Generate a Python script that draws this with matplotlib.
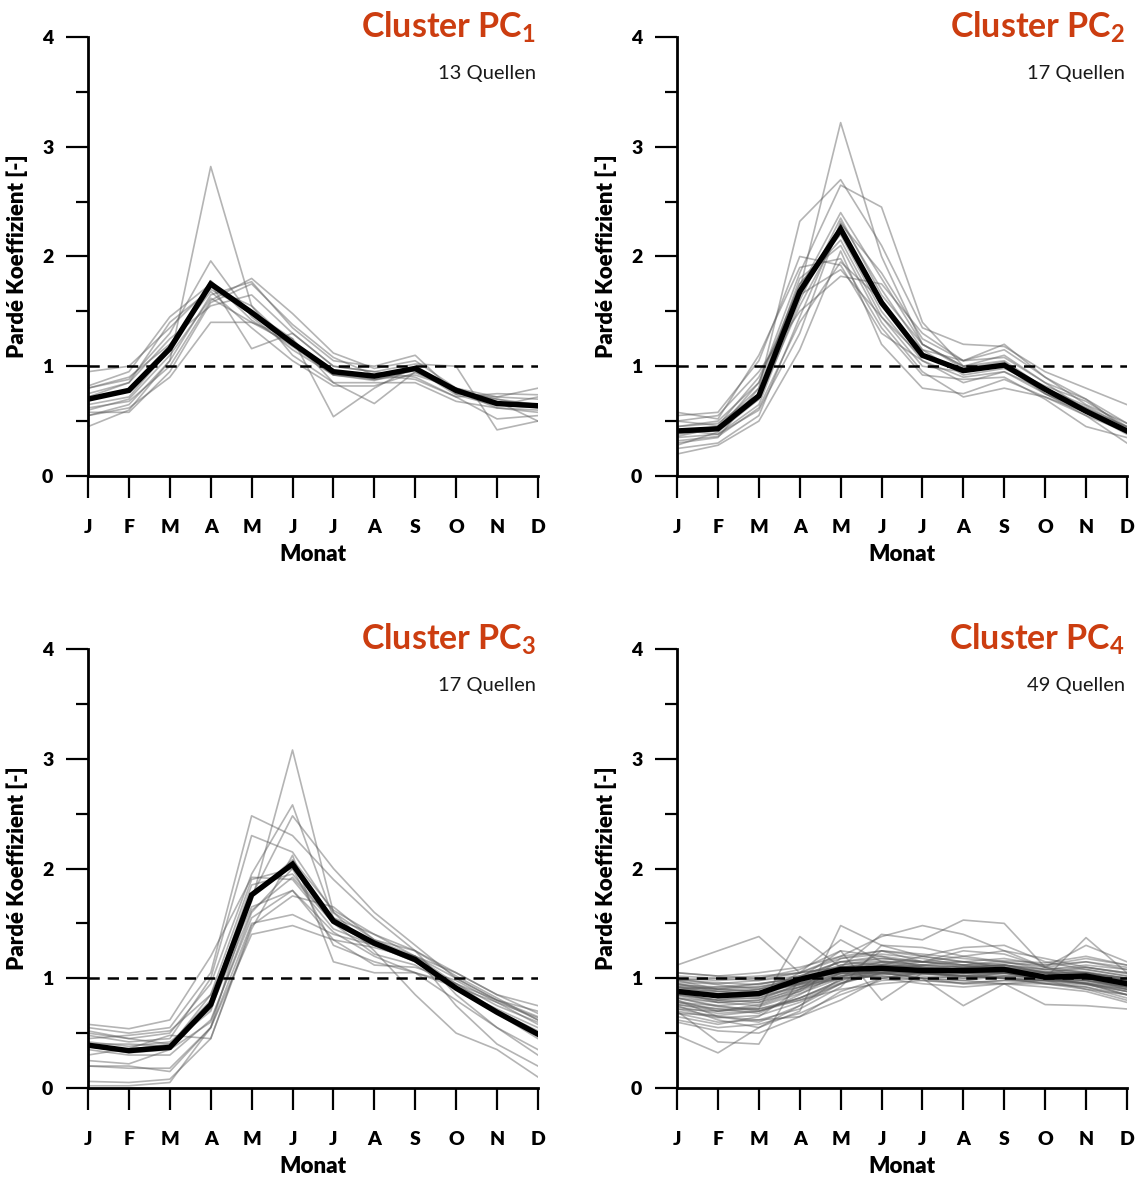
import numpy as np
import matplotlib.pyplot as plt
from matplotlib.ticker import MultipleLocator

plt.rcParams['font.family'] = ['Lato', 'DejaVu Sans']
plt.rcParams['mathtext.fontset'] = 'custom'
plt.rcParams['mathtext.rm'] = 'Lato:bold'
plt.rcParams['mathtext.bf'] = 'Lato:bold'

months = ["J", "F", "M", "A", "M", "J", "J", "A", "S", "O", "N", "D"]

# cluster means (thick black)
pc1_mean = [0.70, 0.78, 1.16, 1.75, 1.49, 1.21, 0.95, 0.91, 0.98, 0.78, 0.66, 0.64]
pc2_mean = [0.41, 0.43, 0.73, 1.68, 2.25, 1.58, 1.10, 0.96, 1.01, 0.79, 0.59, 0.41]
pc3_mean = [0.39, 0.34, 0.37, 0.76, 1.76, 2.04, 1.52, 1.32, 1.17, 0.91, 0.69, 0.49]
pc4_mean = [0.88, 0.84, 0.86, 0.99, 1.08, 1.09, 1.07, 1.07, 1.08, 1.01, 1.02, 0.95]

# single springs (thin grey)
pc1_springs = [
    [0.55, 0.65, 1.05, 2.82, 1.55, 1.20, 0.95, 0.88, 0.96, 0.78, 0.70, 0.65],
    [0.80, 0.88, 1.30, 1.96, 1.45, 1.15, 0.92, 0.90, 0.98, 0.78, 0.65, 0.62],
    [0.60, 0.70, 1.10, 1.62, 1.40, 1.25, 0.54, 0.80, 1.00, 0.75, 0.70, 0.62],
    [0.75, 0.85, 1.40, 1.70, 1.50, 1.25, 0.85, 0.66, 0.95, 0.77, 0.62, 0.58],
    [0.55, 0.62, 0.90, 1.40, 1.40, 1.20, 0.92, 0.88, 0.92, 0.80, 0.72, 0.70],
    [0.62, 0.68, 1.00, 1.60, 1.80, 1.48, 1.12, 0.98, 1.05, 0.80, 0.68, 0.50],
    [0.45, 0.60, 1.05, 1.65, 1.77, 1.35, 1.05, 1.00, 1.10, 0.75, 0.72, 0.80],
    [0.82, 0.95, 1.45, 1.75, 1.16, 1.30, 1.00, 0.95, 1.02, 1.00, 0.42, 0.50],
    [0.72, 0.85, 1.25, 1.55, 1.65, 1.30, 1.00, 0.95, 0.90, 0.72, 0.75, 0.74],
    [0.58, 0.58, 0.95, 1.58, 1.75, 1.38, 1.08, 0.92, 0.88, 0.72, 0.52, 0.55],
    [0.95, 1.00, 1.35, 1.72, 1.55, 1.10, 0.85, 0.85, 0.85, 0.68, 0.62, 0.60],
    [0.80, 0.90, 1.20, 1.68, 1.35, 1.05, 0.82, 0.82, 0.94, 0.80, 0.66, 0.64],
    [0.65, 0.72, 1.15, 1.78, 1.42, 1.18, 0.92, 0.87, 0.97, 0.74, 0.64, 0.72],
]

pc2_springs = [
    [0.40, 0.42, 0.70, 1.70, 3.22, 2.00, 1.20, 1.00, 1.05, 0.80, 0.60, 0.40],
    [0.30, 0.35, 0.80, 2.32, 2.70, 2.10, 1.35, 1.20, 1.18, 0.95, 0.80, 0.65],
    [0.45, 0.50, 0.85, 1.85, 2.65, 2.45, 1.40, 1.00, 1.10, 0.85, 0.60, 0.45],
    [0.50, 0.55, 0.95, 1.50, 1.82, 1.75, 1.30, 1.05, 1.15, 0.90, 0.70, 0.42],
    [0.55, 0.58, 1.05, 2.00, 1.92, 1.30, 1.05, 0.85, 0.95, 0.75, 0.55, 0.40],
    [0.20, 0.28, 0.50, 1.15, 2.05, 1.20, 0.80, 0.75, 0.88, 0.72, 0.55, 0.30],
    [0.35, 0.38, 0.65, 1.60, 2.35, 1.65, 1.20, 1.00, 1.00, 0.75, 0.58, 0.40],
    [0.40, 0.45, 0.80, 1.75, 2.20, 1.50, 1.05, 0.90, 0.95, 0.78, 0.62, 0.45],
    [0.25, 0.30, 0.55, 1.45, 2.30, 1.85, 1.25, 1.05, 1.20, 0.90, 0.65, 0.48],
    [0.45, 0.48, 0.75, 1.80, 2.10, 1.40, 0.95, 0.72, 0.80, 0.72, 0.58, 0.38],
    [0.32, 0.36, 0.62, 1.40, 1.95, 1.60, 1.10, 0.95, 1.00, 0.82, 0.68, 0.45],
    [0.58, 0.52, 1.10, 1.90, 1.98, 1.35, 0.92, 0.88, 0.90, 0.70, 0.45, 0.35],
    [0.28, 0.40, 0.70, 1.55, 2.25, 1.55, 1.15, 0.92, 0.98, 0.80, 0.62, 0.42],
    [0.38, 0.42, 0.85, 1.75, 2.15, 1.45, 1.00, 0.95, 1.02, 0.78, 0.58, 0.40],
    [0.42, 0.38, 0.60, 1.30, 2.32, 1.70, 1.15, 1.05, 1.08, 0.85, 0.70, 0.48],
    [0.50, 0.46, 0.90, 1.65, 1.88, 1.45, 1.08, 0.98, 1.04, 0.75, 0.60, 0.40],
    [0.36, 0.44, 0.72, 1.70, 2.40, 1.80, 1.20, 0.98, 1.02, 0.80, 0.64, 0.44],
]

pc3_springs = [
    [0.40, 0.35, 0.40, 0.80, 1.70, 3.08, 1.60, 1.35, 1.20, 0.95, 0.70, 0.50],
    [0.55, 0.50, 0.55, 1.05, 2.48, 2.30, 1.90, 1.55, 1.25, 0.85, 0.55, 0.30],
    [0.50, 0.45, 0.50, 0.95, 1.95, 2.58, 1.55, 1.30, 1.15, 0.95, 0.75, 0.60],
    [0.20, 0.18, 0.18, 0.55, 1.75, 2.48, 2.00, 1.60, 1.30, 1.00, 0.80, 0.65],
    [0.48, 0.42, 0.45, 1.00, 2.30, 2.15, 1.60, 1.25, 0.85, 0.50, 0.35, 0.10],
    [0.06, 0.05, 0.08, 0.45, 1.45, 2.12, 1.15, 1.05, 1.05, 0.95, 0.80, 0.70],
    [0.58, 0.54, 0.62, 1.20, 1.92, 1.90, 1.45, 1.30, 1.20, 1.00, 0.80, 0.62],
    [0.38, 0.32, 0.35, 0.60, 1.60, 2.00, 1.55, 1.40, 1.25, 1.05, 0.85, 0.68],
    [0.25, 0.22, 0.35, 0.78, 1.85, 1.95, 1.50, 1.30, 1.15, 0.90, 0.68, 0.45],
    [0.20, 0.20, 0.15, 0.55, 1.50, 1.58, 1.40, 1.30, 1.20, 1.05, 0.85, 0.75],
    [0.02, 0.02, 0.05, 0.55, 1.40, 1.48, 1.35, 1.28, 1.18, 0.90, 0.70, 0.52],
    [0.45, 0.48, 0.52, 0.85, 1.65, 1.80, 1.35, 1.12, 1.10, 0.98, 0.78, 0.58],
    [0.35, 0.30, 0.30, 0.62, 1.55, 1.80, 1.42, 1.20, 1.05, 0.80, 0.55, 0.35],
    [0.52, 0.45, 0.40, 0.70, 1.75, 2.08, 1.62, 1.40, 1.20, 0.75, 0.40, 0.20],
    [0.30, 0.36, 0.48, 0.45, 1.48, 1.75, 1.65, 1.35, 1.25, 1.02, 0.82, 0.62],
    [0.42, 0.38, 0.42, 0.72, 1.62, 1.92, 1.50, 1.22, 1.12, 0.90, 0.72, 0.55],
    [0.40, 0.40, 0.38, 0.85, 1.90, 2.00, 1.30, 1.15, 1.05, 0.92, 0.78, 0.64],
]

pc4_springs = [
    [1.12, 1.25, 1.38, 1.05, 1.20, 1.25, 1.15, 1.10, 1.12, 1.05, 1.00, 0.95],
    [0.48, 0.32, 0.55, 0.75, 0.95, 1.10, 1.05, 1.00, 1.05, 1.00, 0.95, 0.85],
    [0.70, 0.42, 0.40, 1.00, 1.15, 1.20, 1.10, 1.05, 1.00, 0.98, 0.95, 0.90],
    [0.80, 0.70, 0.72, 1.38, 1.10, 1.05, 1.00, 0.98, 1.02, 1.00, 0.98, 0.92],
    [0.92, 0.90, 0.95, 1.00, 1.10, 1.40, 1.35, 1.53, 1.50, 1.10, 1.00, 0.90],
    [0.85, 0.80, 0.85, 1.00, 1.25, 0.80, 1.05, 1.10, 1.08, 1.02, 1.05, 0.98],
    [0.95, 0.88, 0.85, 1.05, 1.35, 1.15, 1.10, 1.05, 1.05, 1.00, 1.37, 1.05],
    [0.88, 0.85, 0.90, 0.95, 1.05, 1.05, 1.00, 0.75, 0.95, 0.76, 0.75, 0.72],
    [0.75, 0.62, 0.55, 0.70, 1.48, 1.30, 1.20, 1.15, 1.10, 1.05, 1.00, 0.95],
    [1.05, 1.02, 1.05, 1.10, 1.20, 1.38, 1.48, 1.40, 1.25, 1.18, 1.10, 1.05],
    [0.98, 1.00, 1.02, 1.05, 1.10, 1.15, 1.15, 1.20, 1.25, 1.10, 1.30, 1.15],
    [0.90, 0.92, 0.95, 1.00, 1.05, 1.10, 1.12, 1.15, 1.18, 1.12, 1.15, 1.08],
    [0.68, 0.60, 0.62, 0.65, 0.80, 1.00, 1.05, 1.10, 1.12, 1.05, 1.02, 0.95],
    [0.72, 0.65, 0.60, 0.75, 1.00, 1.25, 1.20, 1.15, 1.10, 1.02, 0.98, 0.90],
    [0.82, 0.75, 0.70, 0.80, 0.95, 1.05, 1.10, 1.08, 1.05, 1.00, 0.95, 0.88],
    [0.86, 0.80, 0.78, 0.88, 1.02, 1.05, 1.00, 0.95, 0.98, 0.98, 0.95, 0.90],
    [0.78, 0.72, 0.68, 0.85, 1.05, 1.10, 1.08, 1.05, 1.05, 1.02, 1.00, 0.92],
    [0.92, 0.88, 0.90, 1.02, 1.15, 1.12, 1.08, 1.05, 1.05, 1.00, 1.02, 0.96],
    [0.96, 0.95, 0.98, 1.05, 1.10, 1.08, 1.05, 1.02, 1.02, 1.00, 1.00, 0.98],
    [1.00, 0.98, 1.00, 1.08, 1.25, 1.20, 1.15, 1.12, 1.10, 1.05, 1.05, 1.00],
    [0.65, 0.58, 0.65, 0.90, 1.18, 1.22, 1.18, 1.12, 1.08, 1.00, 0.95, 0.85],
    [0.74, 0.68, 0.70, 0.82, 0.98, 1.05, 1.05, 1.02, 1.00, 0.95, 0.92, 0.82],
    [0.84, 0.78, 0.80, 0.95, 1.08, 1.12, 1.10, 1.08, 1.08, 1.05, 1.05, 0.98],
    [0.90, 0.82, 0.82, 0.92, 1.00, 1.02, 1.00, 0.98, 0.95, 0.95, 0.92, 0.85],
    [0.98, 0.90, 0.88, 0.95, 1.02, 1.08, 1.05, 1.02, 1.00, 0.98, 0.96, 0.92],
    [0.80, 0.65, 0.62, 0.72, 0.92, 1.30, 1.28, 1.20, 1.15, 1.08, 1.05, 0.98],
    [0.62, 0.55, 0.58, 0.68, 0.85, 0.98, 1.00, 1.02, 1.05, 1.05, 1.10, 1.05],
    [1.02, 1.00, 0.98, 1.02, 1.05, 1.00, 0.95, 0.92, 0.95, 0.98, 1.00, 0.95],
    [0.88, 0.78, 0.75, 0.88, 1.12, 1.18, 1.15, 1.25, 1.22, 1.10, 1.05, 1.00],
    [0.76, 0.70, 0.76, 0.90, 1.00, 1.12, 1.20, 1.28, 1.30, 1.15, 1.08, 1.02],
    [0.94, 0.92, 0.92, 0.98, 1.06, 1.04, 1.02, 1.00, 1.02, 1.02, 1.04, 1.00],
    [0.70, 0.64, 0.66, 0.78, 0.95, 1.08, 1.12, 1.10, 1.12, 1.08, 1.12, 1.08],
    [0.82, 0.74, 0.72, 0.80, 0.90, 0.95, 0.98, 0.96, 0.98, 0.96, 0.94, 0.88],
    [1.05, 1.02, 1.00, 1.05, 1.18, 1.25, 1.22, 1.18, 1.15, 1.10, 1.15, 1.10],
    [0.86, 0.84, 0.86, 0.98, 1.08, 1.10, 1.06, 1.06, 1.08, 1.02, 1.02, 0.95],
    [0.92, 0.86, 0.84, 0.92, 1.02, 1.06, 1.04, 1.04, 1.06, 1.04, 1.06, 1.00],
    [0.78, 0.75, 0.78, 0.92, 1.05, 1.15, 1.12, 1.08, 1.05, 0.98, 0.90, 0.80],
    [0.95, 0.90, 0.92, 1.00, 1.12, 1.16, 1.12, 1.10, 1.12, 1.08, 1.10, 1.04],
    [0.72, 0.70, 0.74, 0.86, 1.00, 1.02, 0.98, 0.95, 0.95, 0.92, 0.88, 0.78],
    [0.98, 0.96, 0.94, 1.02, 1.15, 1.18, 1.15, 1.12, 1.14, 1.12, 1.18, 1.12],
    [0.85, 0.80, 0.82, 0.94, 1.04, 1.06, 1.04, 1.02, 1.04, 1.00, 0.98, 0.92],
    [0.68, 0.66, 0.70, 0.82, 0.98, 1.10, 1.15, 1.15, 1.12, 1.06, 1.00, 0.92],
    [0.90, 0.88, 0.86, 0.96, 1.06, 1.12, 1.10, 1.08, 1.10, 1.06, 1.08, 1.02],
    [0.82, 0.78, 0.80, 0.90, 1.04, 1.08, 1.06, 1.04, 1.06, 1.02, 1.00, 0.96],
    [1.00, 0.94, 0.90, 0.98, 1.10, 1.14, 1.08, 1.06, 1.05, 1.02, 1.04, 0.98],
    [0.76, 0.72, 0.72, 0.82, 0.96, 1.04, 1.08, 1.12, 1.16, 1.14, 1.20, 1.12],
    [0.88, 0.84, 0.84, 0.96, 1.10, 1.12, 1.08, 1.06, 1.06, 1.00, 0.96, 0.88],
    [0.93, 0.90, 0.88, 0.94, 1.00, 1.04, 1.04, 1.02, 1.00, 0.98, 0.98, 0.94],
    [0.60, 0.52, 0.50, 0.65, 0.88, 1.00, 1.05, 1.02, 1.00, 0.95, 0.90, 0.85],
]

panels = [
    ("1", "13 Quellen", pc1_springs, pc1_mean),
    ("2", "17 Quellen", pc2_springs, pc2_mean),
    ("3", "17 Quellen", pc3_springs, pc3_mean),
    ("4", "49 Quellen", pc4_springs, pc4_mean),
]

TITLE_COLOR = "#cc3d10"

fig = plt.figure(figsize=(11.36, 11.79), dpi=100)
lefts = [0.0775, 0.596]
bottoms = [0.5963, 0.0772]
w, h = 0.396, 0.3723

x = np.arange(len(months))
for i, (idx, n_label, springs, mean) in enumerate(panels):
    ax = fig.add_axes([lefts[i % 2], bottoms[i // 2], w, h])
    for s in springs:
        ax.plot(x, s, color="0.35", alpha=0.45, lw=1.2, zorder=2)
    ax.axhline(1, color="black", lw=1.8, ls=(0, (4.5, 3.2)), zorder=3)
    ax.plot(x, mean, color="black", lw=3.9, solid_joinstyle="miter", zorder=4)

    ax.set_xlim(0, 11)
    ax.set_ylim(0, 4)
    ax.set_xticks(x)
    ax.set_xticklabels(months)
    ax.yaxis.set_major_locator(MultipleLocator(1))
    ax.yaxis.set_minor_locator(MultipleLocator(0.5))
    for sp in ("top", "right"):
        ax.spines[sp].set_visible(False)
    for sp in ("left", "bottom"):
        ax.spines[sp].set_linewidth(2)
    ax.tick_params(axis="x", direction="out", length=16, width=1.6, pad=15,
                   labelsize=14)
    ax.tick_params(axis="y", which="major", direction="out", length=16,
                   width=1.6, pad=9, labelsize=14)
    ax.tick_params(axis="y", which="minor", direction="out", length=9, width=1.6)
    for lab in ax.get_xticklabels() + ax.get_yticklabels():
        lab.set_fontweight("heavy")

    ax.set_xlabel("Monat", fontsize=16, fontweight="heavy", labelpad=6)
    ax.set_ylabel("Pardé Koeffizient [-]", fontsize=16, fontweight="heavy",
                  labelpad=10)

    ax.text(0.996, 1.0, "Cluster PC$_{\\mathbf{" + idx + "}}$",
            transform=ax.transAxes, ha="right", va="baseline",
            fontsize=24.5, fontweight="bold", color=TITLE_COLOR)
    ax.text(0.996, 0.905, n_label, transform=ax.transAxes, ha="right",
            va="baseline", fontsize=14.5, color="#1a1a1a")

fig.savefig("out.png", dpi=100)
